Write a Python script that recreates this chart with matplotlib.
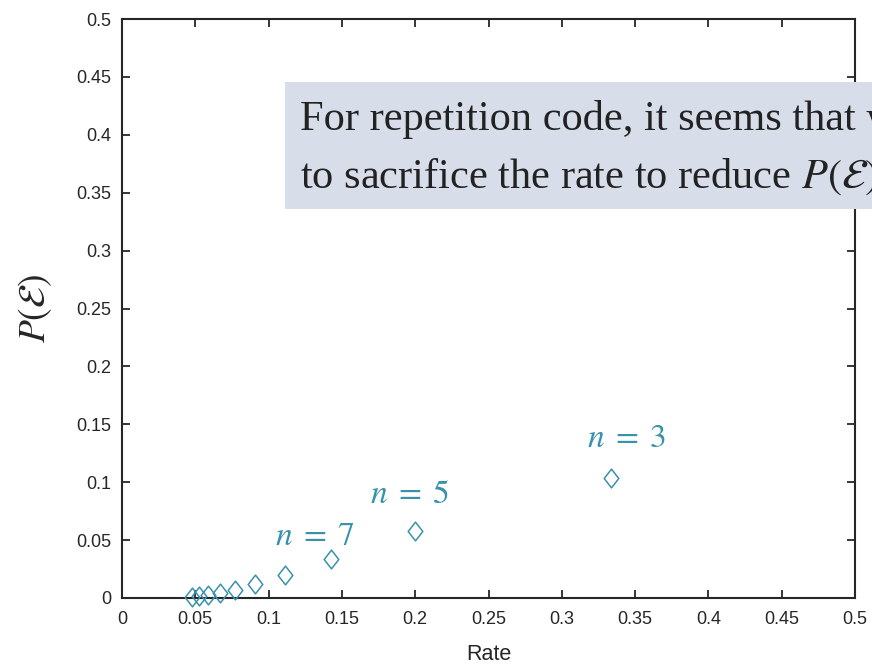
import matplotlib
matplotlib.use("Agg")
import matplotlib.pyplot as plt
from matplotlib.path import Path
from matplotlib.patches import Rectangle

# Data
rate = [1/3, 1/5, 1/7, 1/9, 1/11, 1/13, 1/15, 1/17, 1/19, 1/21]
p_err = [0.104, 0.0579, 0.0333, 0.0196, 0.0117, 0.0070, 0.0042, 0.0026, 0.0016, 0.0010]
label_texts = [r"$n\;=\;3$", r"$n\;=\;5$", r"$n\;=\;7$"]
label_x = [0.3172, 0.169, 0.1044]
label_y = [0.1304, 0.082, 0.0458]
xticks = [0, 0.05, 0.1, 0.15, 0.2, 0.25, 0.3, 0.35, 0.4, 0.45, 0.5]
yticks = [0, 0.05, 0.1, 0.15, 0.2, 0.25, 0.3, 0.35, 0.4, 0.45, 0.5]
note_lines = ["For repetition code, it seems that we have",
              "to sacrifice the rate to reduce $P(\\mathcal{E})$"]

teal = "#3892AC"
dark = "#262626"

plt.rcParams["mathtext.fontset"] = "stix"
plt.rcParams["font.family"] = ["Liberation Sans", "DejaVu Sans"]

W, H = 872, 666
fig = plt.figure(figsize=(W/100, H/100), dpi=100)
ax = fig.add_axes([122/W, 1 - 598/H, (855-122)/W, (598-19)/H])

diamond = Path([(0, -1), (0.78, 0), (0, 1), (-0.78, 0), (0, -1)],
               [Path.MOVETO, Path.LINETO, Path.LINETO, Path.LINETO, Path.CLOSEPOLY])

ax.plot(rate, p_err, linestyle="none", marker=diamond, markersize=13.5,
        markerfacecolor="none", markeredgecolor=teal, markeredgewidth=1.1,
        clip_on=False, zorder=3)

for t, x, y in zip(label_texts, label_x, label_y):
    ax.text(x, y, t, color=teal, fontsize=24, ha="left", va="baseline")

ax.set_xlim(0, 0.5)
ax.set_ylim(0, 0.5)
ax.set_xticks(xticks)
ax.set_yticks(yticks)
ax.set_xticklabels([f"{v:g}" for v in xticks])
ax.set_yticklabels([f"{v:g}" for v in yticks])
ax.tick_params(direction="in", top=True, right=True, length=6, width=1.3,
               labelsize=13, colors=dark)
ax.tick_params(axis="x", pad=9)
ax.tick_params(axis="y", pad=8)
for s in ax.spines.values():
    s.set_linewidth(1.5)
    s.set_color(dark)

ax.set_xlabel("Rate", fontsize=15.5, color=dark, labelpad=12)
ax.set_ylabel(r"$P(\mathcal{E})$", fontsize=27, color=dark, labelpad=16)

fig.patches.append(Rectangle((285/W, 1 - 209/H), (W + 50 - 285)/W, (209-82)/H,
                             transform=fig.transFigure, facecolor="#D8DDEA",
                             edgecolor="none", zorder=9))
for line, yb in zip(note_lines, [130, 188]):
    fig.text(300/W, 1 - yb/H, line, fontsize=30.5, family="Liberation Serif",
             color="#222222", ha="left", va="baseline", zorder=10)

fig.savefig("out.png", dpi=100)
